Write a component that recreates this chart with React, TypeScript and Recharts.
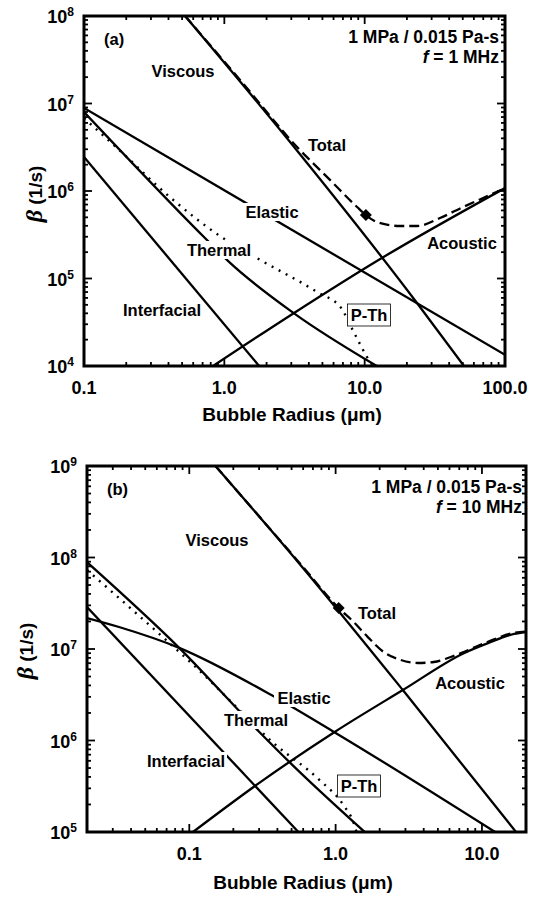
import { ComposedChart, Line, XAxis, YAxis, ReferenceArea } from "recharts"

// ---------- panel (a): 1 MPa / 0.015 Pa-s, f = 1 MHz ----------
const xMajorsA = [0.1, 1, 10, 100]
const xLabelsA = ["0.1", "1.0", "10.0", "100.0"]
const yMajorsA = [1e4, 1e5, 1e6, 1e7, 1e8]
const yExpA = ["4", "5", "6", "7", "8"]

const viscousRA = [0.525, 2.94, 23.6, 51]
const viscousBA = [1e8, 3.63e6, 5.25e4, 1e4]
const elasticRA = [0.1, 100]
const elasticBA = [8.9e6, 1.34e4]
const thermalRA = [0.1, 0.716, 1.08, 3.14, 12.2]
const thermalBA = [8.0e6, 2.98e5, 1.55e5, 4.0e4, 1e4]
const pthRA = [0.1, 0.172, 0.417, 0.947, 1.71, 4.58, 6.8, 8.0, 11.1, 11.5]
const pthBA = [6.8e6, 3.1e6, 8.3e5, 3.0e5, 1.71e5, 7.0e4, 4.6e4, 2.8e4, 1.08e4, 1e4]
const interfacialRA = [0.1, 1.77]
const interfacialBA = [2.45e6, 1e4]
const acousticRA = [0.831, 3.14, 12.9, 100]
const acousticBA = [1e4, 4.04e4, 1.67e5, 1.08e6]
const totalRA = [0.525, 1.29, 3.3, 5.66, 8.83, 10.2, 12.2, 17.9, 23.6, 34.4, 50.2, 69.8, 100]
const totalBA = [1e8, 1.87e7, 3.18e6, 1.34e6, 6.56e5, 5.32e5, 4.43e5, 3.98e5, 3.98e5, 4.91e5, 6.56e5, 8.3e5, 1.08e6]
const markerRA = [10.2]
const markerBA = [5.32e5]

// ---------- panel (b): 1 MPa / 0.015 Pa-s, f = 10 MHz ----------
const xMajorsB = [0.1, 1, 10]
const xLabelsB = ["0.1", "1.0", "10.0"]
const yMajorsB = [1e5, 1e6, 1e7, 1e8, 1e9]
const yExpB = ["5", "6", "7", "8", "9"]

const viscousRB = [0.151, 0.575, 2.88, 17.1]
const viscousBB = [1e9, 8.3e7, 3.56e6, 1e5]
const elasticRB = [0.02, 0.0331, 0.0853, 0.364, 1.0, 12.3]
const elasticBB = [2.18e7, 1.74e7, 1.03e7, 3.14e6, 1.21e6, 1e5]
const thermalRB = [0.02, 0.0853, 0.301, 0.484, 1.58]
const thermalBB = [8.9e7, 1.03e7, 1.24e6, 5.8e5, 1e5]
const pthRB = [0.02, 0.0388, 0.0695, 0.1306, 0.179, 0.376, 0.776, 1.13, 1.33, 1.39]
const pthBB = [7.3e7, 2.88e7, 1.25e7, 4.94e6, 2.99e6, 9.4e5, 3.7e5, 1.97e5, 1.25e5, 1e5]
const interfacialRB = [0.02, 0.557]
const interfacialBB = [2.88e7, 1e5]
const acousticRB = [0.106, 0.301, 0.985, 2.88, 7.52, 11.0, 16.6, 20]
const acousticBB = [1e5, 3.44e5, 1.24e6, 3.56e6, 9.0e6, 1.16e7, 1.46e7, 1.53e7]
const totalRB = [0.151, 0.575, 1.05, 1.33, 1.66, 2.13, 2.79, 3.64, 4.69, 6.12, 7.52, 11.0, 16.6, 20]
const totalBB = [1e9, 8.5e7, 2.8e7, 1.97e7, 1.35e7, 9.27e6, 7.58e6, 7.03e6, 7.21e6, 8.18e6, 9.27e6, 1.2e7, 1.5e7, 1.55e7]
const markerRB = [1.05]
const markerBB = [2.8e7]

const FONT = "'Liberation Sans', Arial, Helvetica, sans-serif"

type Pt = { r: number; b: number }
const pts = (r: number[], b: number[]): Pt[] => r.map((v, i) => ({ r: v, b: b[i] }))

// all 1..9 x 10^n values inside the domain (log axis tick marks)
const logTicks = (lo: number, hi: number) => {
  const out: number[] = []
  for (let e = Math.floor(Math.log10(lo)); e <= Math.ceil(Math.log10(hi)); e++) {
    for (let k = 1; k < 10; k++) {
      const v = +(k * Math.pow(10, e)).toPrecision(4)
      if (v >= lo * 0.999 && v <= hi * 1.001) out.push(v)
    }
  }
  return out
}

const isMajor = (v: number, majors: number[]) => majors.findIndex((m) => Math.abs(v / m - 1) < 1e-6)

type Series = { r: number[]; b: number[]; dash?: string; width?: number }
type Tag = { text: string; x: number; y: number; w: number; box?: boolean }

type PanelProps = {
  top: number
  width: number
  height: number
  marginTop: number
  marginRight: number
  yAxisWidth: number
  xAxisHeight: number
  xDomain: [number, number]
  yDomain: [number, number]
  xMajors: number[]
  xLabels: string[]
  yMajors: number[]
  yExp: string[]
  series: Series[]
  marker: Pt[]
  tags: Tag[]
  panel: string
  freq: string
  noteRight: number
  yTitle: [number, number]
  xTitle: [number, number]
}

const Diamond = (props: any) => {
  const { cx, cy } = props
  if (cx == null || cy == null) return <g />
  return <polygon points={`${cx},${cy - 6} ${cx + 6},${cy} ${cx},${cy + 6} ${cx - 6},${cy}`} fill="#000" />
}

function Panel(p: PanelProps) {
  const left = p.yAxisWidth
  const right = p.width - p.marginRight
  const top = p.marginTop
  const bottom = p.height - p.xAxisHeight

  const xTick = (props: any) => {
    const { x, payload } = props
    const i = isMajor(payload.value, p.xMajors)
    const len = i >= 0 ? 8 : 4
    return (
      <g>
        <line x1={x} x2={x} y1={bottom} y2={bottom - len} stroke="#000" strokeWidth={1.8} />
        <line x1={x} x2={x} y1={top} y2={top + len} stroke="#000" strokeWidth={1.8} />
        {i >= 0 && (
          <text x={x} y={bottom + 28} textAnchor="middle" fontFamily={FONT} fontWeight="bold" fontSize={18} fill="#000">
            {p.xLabels[i]}
          </text>
        )}
      </g>
    )
  }

  const yTick = (props: any) => {
    const { y, payload } = props
    const i = isMajor(payload.value, p.yMajors)
    const len = i >= 0 ? 8 : 4
    return (
      <g>
        <line x1={left} x2={left + len} y1={y} y2={y} stroke="#000" strokeWidth={1.8} />
        <line x1={right} x2={right - len} y1={y} y2={y} stroke="#000" strokeWidth={1.8} />
        {i >= 0 && (
          <text x={left - 10} y={y + 7} textAnchor="end" fontFamily={FONT} fontWeight="bold" fontSize={18} fill="#000">
            10
            <tspan dy={-7} fontSize={12}>
              {p.yExp[i]}
            </tspan>
          </text>
        )}
      </g>
    )
  }

  return (
    <div style={{ position: "absolute", left: 0, top: p.top, width: p.width, height: p.height }}>
      <ComposedChart
        width={p.width}
        height={p.height}
        margin={{ top: p.marginTop, right: p.marginRight, bottom: 0, left: 0 }}
      >
        <XAxis
          type="number"
          dataKey="r"
          scale="log"
          domain={p.xDomain}
          allowDataOverflow
          ticks={logTicks(p.xDomain[0], p.xDomain[1])}
          interval={0}
          tick={xTick}
          tickLine={false}
          axisLine={false}
          height={p.xAxisHeight}
        />
        <YAxis
          type="number"
          scale="log"
          domain={p.yDomain}
          allowDataOverflow
          ticks={logTicks(p.yDomain[0], p.yDomain[1])}
          interval={0}
          tick={yTick}
          tickLine={false}
          axisLine={false}
          width={p.yAxisWidth}
        />
        <ReferenceArea
          x1={p.xDomain[0]}
          x2={p.xDomain[1]}
          y1={p.yDomain[0]}
          y2={p.yDomain[1]}
          fill="none"
          fillOpacity={0}
          stroke="#000"
          strokeWidth={3}
          ifOverflow="visible"
        />
        {p.series.map((s, i) => (
          <Line
            key={i}
            data={pts(s.r, s.b)}
            dataKey="b"
            type="monotone"
            stroke="#000"
            strokeWidth={s.width ?? 2.3}
            strokeDasharray={s.dash}
            dot={false}
            activeDot={false}
            isAnimationActive={false}
          />
        ))}
        <Line
          data={p.marker}
          dataKey="b"
          stroke="none"
          dot={<Diamond />}
          activeDot={false}
          isAnimationActive={false}
        />
      </ComposedChart>
      <svg
        width={p.width}
        height={p.height}
        style={{ position: "absolute", left: 0, top: 0, pointerEvents: "none" }}
        fontFamily={FONT}
        fontWeight="bold"
      >
        {p.tags.map((t) => (
          <g key={t.text}>
            <rect
              x={t.x - t.w / 2}
              y={t.y - 9}
              width={t.w}
              height={t.box ? 22 : 18}
              transform={t.box ? "translate(0,-2)" : undefined}
              fill="#fff"
              stroke={t.box ? "#000" : "none"}
              strokeWidth={0.8}
            />
            <text x={t.x} y={t.y + 6} textAnchor="middle" fontSize={16.5} fill="#000">
              {t.text}
            </text>
          </g>
        ))}
        <text x={left + 20} y={top + 29} fontSize={16.5}>
          {p.panel}
        </text>
        <text x={p.noteRight} y={top + 27} textAnchor="end" fontSize={17.5}>
          1 MPa / 0.015 Pa-s
        </text>
        <text x={p.noteRight} y={top + 47} textAnchor="end" fontSize={17.5}>
          <tspan fontStyle="italic">f</tspan> = {p.freq}
        </text>
        <text
          transform={`translate(${p.yTitle[0]},${p.yTitle[1]}) rotate(-90)`}
          textAnchor="middle"
          y={6}
          fontSize={19}
        >
          <tspan fontFamily="'Liberation Serif', 'DejaVu Serif', serif" fontStyle="italic" fontSize={24}>
            β
          </tspan>{" "}
          (1/s)
        </text>
        <text x={p.xTitle[0]} y={p.xTitle[1] + 6} textAnchor="middle" fontSize={19}>
          Bubble Radius (μm)
        </text>
      </svg>
    </div>
  )
}

export default function App() {
  return (
    <div style={{ position: "absolute", left: 0, top: 0, width: 537, height: 897, background: "#fff" }}>
      <Panel
        top={0}
        width={537}
        height={440}
        marginTop={16}
        marginRight={32}
        yAxisWidth={84}
        xAxisHeight={74}
        xDomain={[0.1, 100]}
        yDomain={[1e4, 1e8]}
        xMajors={xMajorsA}
        xLabels={xLabelsA}
        yMajors={yMajorsA}
        yExp={yExpA}
        series={[
          { r: viscousRA, b: viscousBA },
          { r: elasticRA, b: elasticBA },
          { r: thermalRA, b: thermalBA },
          { r: pthRA, b: pthBA, dash: "2 6", width: 2.4 },
          { r: interfacialRA, b: interfacialBA },
          { r: acousticRA, b: acousticBA },
          { r: totalRA, b: totalBA, dash: "10 5" },
        ]}
        marker={pts(markerRA, markerBA)}
        tags={[
          { text: "Viscous", x: 183, y: 71, w: 66 },
          { text: "Total", x: 327, y: 145, w: 44 },
          { text: "Elastic", x: 272, y: 212, w: 60 },
          { text: "Thermal", x: 219, y: 250, w: 68 },
          { text: "Interfacial", x: 162, y: 310, w: 82 },
          { text: "Acoustic", x: 462, y: 243, w: 72 },
          { text: "P-Th", x: 369, y: 315, w: 43, box: true },
        ]}
        panel="(a)"
        freq="1 MHz"
        noteRight={499}
        yTitle={[36, 194]}
        xTitle={[292, 415]}
      />
      <Panel
        top={450}
        width={537}
        height={447}
        marginTop={16}
        marginRight={11}
        yAxisWidth={87}
        xAxisHeight={65}
        xDomain={[0.02, 20]}
        yDomain={[1e5, 1e9]}
        xMajors={xMajorsB}
        xLabels={xLabelsB}
        yMajors={yMajorsB}
        yExp={yExpB}
        series={[
          { r: viscousRB, b: viscousBB },
          { r: elasticRB, b: elasticBB },
          { r: thermalRB, b: thermalBB },
          { r: pthRB, b: pthBB, dash: "2 6", width: 2.4 },
          { r: interfacialRB, b: interfacialBB },
          { r: acousticRB, b: acousticBB },
          { r: totalRB, b: totalBB, dash: "10 5" },
        ]}
        marker={pts(markerRB, markerBB)}
        tags={[
          { text: "Viscous", x: 217, y: 90, w: 66 },
          { text: "Total", x: 377, y: 163, w: 44 },
          { text: "Elastic", x: 304, y: 248, w: 60 },
          { text: "Thermal", x: 256, y: 270, w: 68 },
          { text: "Interfacial", x: 186, y: 311, w: 82 },
          { text: "Acoustic", x: 470, y: 233, w: 72 },
          { text: "P-Th", x: 359, y: 336, w: 43, box: true },
        ]}
        panel="(b)"
        freq="10 MHz"
        noteRight={522}
        yTitle={[27, 201]}
        xTitle={[303, 433]}
      />
    </div>
  )
}
